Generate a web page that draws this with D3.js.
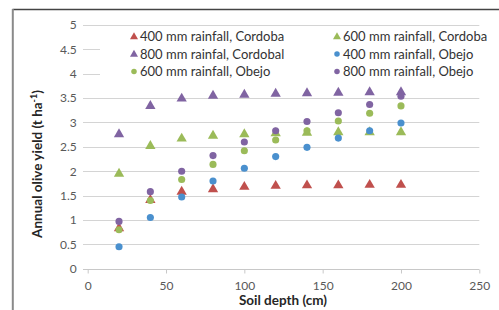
<!DOCTYPE html>
<html><head><meta charset="utf-8">
<script src="https://cdn.jsdelivr.net/npm/d3@7"></script>
<style>body{margin:0;background:#fff;} svg{display:block;font-family:Lato,"Open Sans",sans-serif;}</style>
</head><body>
<svg id="c" width="499" height="310"></svg>
<script>
const depths = [20, 40, 60, 80, 100, 120, 140, 160, 180, 200];
const seriesNames = ["400 mm rainfall, Cordoba", "600 mm rainfall, Cordoba", "800 mm rainfal, Cordobal",
                     "400 mm rainfall, Obejo", "600 mm rainfall, Obejo", "800 mm rainfall, Obejo"];
const cordoba400 = [0.85, 1.43, 1.60, 1.65, 1.70, 1.72, 1.73, 1.73, 1.74, 1.74];
const cordoba600 = [1.97, 2.54, 2.69, 2.75, 2.78, 2.80, 2.81, 2.82, 2.82, 2.82];
const cordoba800 = [2.78, 3.36, 3.51, 3.57, 3.59, 3.61, 3.62, 3.63, 3.64, 3.64];
const obejo400 = [0.45, 1.05, 1.47, 1.80, 2.06, 2.30, 2.49, 2.68, 2.83, 2.99];
const obejo600 = [0.80, 1.40, 1.83, 2.14, 2.42, 2.64, 2.83, 3.03, 3.19, 3.34];
const obejo800 = [0.97, 1.58, 2.00, 2.32, 2.60, 2.83, 3.02, 3.20, 3.37, 3.54];
const xTicks = [0, 50, 100, 150, 200, 250];
const yTicks = [0, 0.5, 1, 1.5, 2, 2.5, 3, 3.5, 4, 4.5, 5];
const xTitle = "Soil depth (cm)";

const allSeries = [cordoba400, cordoba600, cordoba800, obejo400, obejo600, obejo800];
const colors = ["#C0504D", "#9BBB59", "#8064A2", "#4A90CE", "#9BBB59", "#8064A2"];
const shapes = [d3.symbolTriangle, d3.symbolTriangle, d3.symbolTriangle, d3.symbolCircle, d3.symbolCircle, d3.symbolCircle];
const sizes = [46, 46, 46, 40, 40, 40];

const svg = d3.select("#c");
const x = d3.scaleLinear().domain([0, 250]).range([87.7, 479.3]);
const y = d3.scaleLinear().domain([0, 5]).range([268.7, 25]);

// frame
svg.append("line").attr("x1", 12.5).attr("x2", 499).attr("y1", 9.5).attr("y2", 9.5).attr("stroke", "#444").attr("stroke-width", 1.5);
svg.append("line").attr("x1", 12.8).attr("x2", 12.8).attr("y1", 9).attr("y2", 310).attr("stroke", "#8a8a8a").attr("stroke-width", 2);

// gridlines
svg.append("g").selectAll("line").data(yTicks.filter(d => d > 0)).join("line")
  .attr("x1", 83).attr("x2", x(250)).attr("y1", d => Math.round(y(d)) + 0.5).attr("y2", d => Math.round(y(d)) + 0.5)
  .attr("stroke", "#d4d4d4").attr("stroke-width", 1.2);

// x axis
const xa = svg.append("g").attr("transform", `translate(0,${Math.round(y(0)) + 0.5})`)
  .call(d3.axisBottom(x).tickValues(xTicks).tickSize(4).tickSizeOuter(0).tickPadding(8));
xa.select(".domain").attr("stroke", "#c8c8c8").attr("stroke-width", 1.2).attr("d", `M83,0H${x(250)}`);
xa.selectAll(".tick line").attr("stroke", "#c8c8c8");
xa.selectAll("text").attr("fill", "#595959").attr("font-size", 12).attr("font-family", "Lato, sans-serif");

// y axis labels
const ya = svg.append("g").attr("transform", `translate(${x(0)},0)`)
  .call(d3.axisLeft(y).tickValues(yTicks).tickFormat(d3.format("")).tickSize(0).tickPadding(11));
ya.select(".domain").remove();
ya.selectAll("text").attr("fill", "#595959").attr("font-size", 12).attr("font-family", "Lato, sans-serif");

// titles
svg.append("text").attr("x", 283).attr("y", 305).attr("text-anchor", "middle")
  .attr("font-weight", "bold").attr("font-size", 13.5).attr("fill", "#262626").text(xTitle);
const yt = svg.append("text").attr("transform", "translate(42,164) rotate(-90)").attr("text-anchor", "middle")
  .attr("font-weight", "bold").attr("font-size", 13.5).attr("fill", "#262626");
yt.append("tspan").text("Annual olive yield (t ha");
yt.append("tspan").attr("dy", -5).attr("font-size", 9).text("-1");
yt.append("tspan").attr("dy", 5).text(")");

// legend background
svg.append("rect").attr("x", 100).attr("y", 27).attr("width", 380).attr("height", 55).attr("fill", "#fff");

// points
allSeries.forEach((vals, i) => {
  svg.append("g").selectAll("path").data(vals).join("path")
    .attr("transform", (v, j) => `translate(${x(depths[j])},${y(v) + (i < 3 ? 1 : 0)})`)
    .attr("d", d3.symbol().type(shapes[i]).size(sizes[i]))
    .attr("fill", colors[i]);
});

// legend
const legX = [134, 337], legY = [36.5, 54, 71.5];
seriesNames.forEach((name, i) => {
  const col = i % 2, row = Math.floor(i / 2);
  const g = svg.append("g").attr("transform", `translate(${legX[col]},${legY[row]})`);
  g.append("path").attr("transform", `translate(0,${i < 3 ? 0.5 : 0})`)
    .attr("d", d3.symbol().type(shapes[i]).size(i < 3 ? 28 : 24)).attr("fill", colors[i]);
  g.append("text").attr("x", 6).attr("y", 4.5).attr("font-size", 13).attr("fill", "#333").text(name);
});
</script>
</body></html>
